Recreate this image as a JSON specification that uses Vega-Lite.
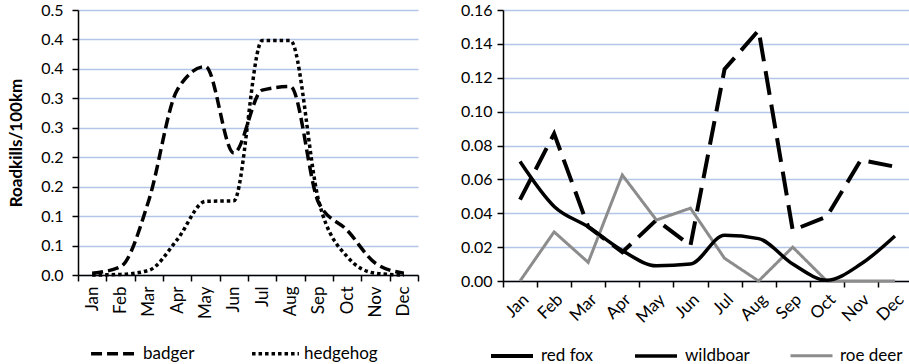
{
  "$schema": "https://vega.github.io/schema/vega-lite/v6.json",
  "background": "white",
  "padding": {"left": 7, "top": 2, "right": 0, "bottom": 0},
  "config": {
    "font": "Lato",
    "view": {"stroke": null},
    "concat": {"spacing": 41},
    "axis": {
      "labelFont": "Lato",
      "labelColor": "#000",
      "labelFontSize": 16,
      "domainColor": "#000",
      "domainWidth": 1.5,
      "tickColor": "#000",
      "tickWidth": 1.5,
      "tickSize": 6,
      "gridColor": "#b4c6e7",
      "gridWidth": 1.5
    },
    "legend": {"labelFont": "Lato", "labelColor": "#000", "labelFontSize": 17}
  },
  "resolve": {
    "scale": {"color": "independent", "strokeDash": "independent", "strokeWidth": "independent"},
    "legend": {"color": "independent", "strokeDash": "independent", "strokeWidth": "independent"}
  },
  "datasets": {
    "left": [
      {"month": "Jan", "species": "badger", "value": 0.003},
      {"month": "Feb", "species": "badger", "value": 0.014},
      {"month": "Mar", "species": "badger", "value": 0.127},
      {"month": "Apr", "species": "badger", "value": 0.314},
      {"month": "May", "species": "badger", "value": 0.354},
      {"month": "Jun", "species": "badger", "value": 0.207},
      {"month": "Jul", "species": "badger", "value": 0.314},
      {"month": "Aug", "species": "badger", "value": 0.32},
      {"month": "Sep", "species": "badger", "value": 0.122},
      {"month": "Oct", "species": "badger", "value": 0.076},
      {"month": "Nov", "species": "badger", "value": 0.02},
      {"month": "Dec", "species": "badger", "value": 0.003},
      {"month": "Jan", "species": "hedgehog", "value": 0.0},
      {"month": "Feb", "species": "hedgehog", "value": 0.001},
      {"month": "Mar", "species": "hedgehog", "value": 0.008},
      {"month": "Apr", "species": "hedgehog", "value": 0.06},
      {"month": "May", "species": "hedgehog", "value": 0.125},
      {"month": "Jun", "species": "hedgehog", "value": 0.126},
      {"month": "Jul", "species": "hedgehog", "value": 0.398},
      {"month": "Aug", "species": "hedgehog", "value": 0.398},
      {"month": "Sep", "species": "hedgehog", "value": 0.125},
      {"month": "Oct", "species": "hedgehog", "value": 0.031},
      {"month": "Nov", "species": "hedgehog", "value": 0.003},
      {"month": "Dec", "species": "hedgehog", "value": 0.0}
    ],
    "right": [
      {"month": "Jan", "species": "red fox", "value": 0.048},
      {"month": "Feb", "species": "red fox", "value": 0.087},
      {"month": "Mar", "species": "red fox", "value": 0.032},
      {"month": "Apr", "species": "red fox", "value": 0.017},
      {"month": "May", "species": "red fox", "value": 0.036},
      {"month": "Jun", "species": "red fox", "value": 0.021},
      {"month": "Jul", "species": "red fox", "value": 0.125},
      {"month": "Aug", "species": "red fox", "value": 0.148},
      {"month": "Sep", "species": "red fox", "value": 0.03},
      {"month": "Oct", "species": "red fox", "value": 0.038},
      {"month": "Nov", "species": "red fox", "value": 0.0715},
      {"month": "Dec", "species": "red fox", "value": 0.0675},
      {"month": "Jan", "species": "wildboar", "value": 0.0705},
      {"month": "Feb", "species": "wildboar", "value": 0.044},
      {"month": "Mar", "species": "wildboar", "value": 0.032},
      {"month": "Apr", "species": "wildboar", "value": 0.018},
      {"month": "May", "species": "wildboar", "value": 0.009},
      {"month": "Jun", "species": "wildboar", "value": 0.01},
      {"month": "Jul", "species": "wildboar", "value": 0.027},
      {"month": "Aug", "species": "wildboar", "value": 0.025},
      {"month": "Sep", "species": "wildboar", "value": 0.01},
      {"month": "Oct", "species": "wildboar", "value": 0.0005},
      {"month": "Nov", "species": "wildboar", "value": 0.01},
      {"month": "Dec", "species": "wildboar", "value": 0.0266},
      {"month": "Jan", "species": "roe deer", "value": 0.0},
      {"month": "Feb", "species": "roe deer", "value": 0.029},
      {"month": "Mar", "species": "roe deer", "value": 0.011},
      {"month": "Apr", "species": "roe deer", "value": 0.0626},
      {"month": "May", "species": "roe deer", "value": 0.036},
      {"month": "Jun", "species": "roe deer", "value": 0.043},
      {"month": "Jul", "species": "roe deer", "value": 0.0134},
      {"month": "Aug", "species": "roe deer", "value": 0.0},
      {"month": "Sep", "species": "roe deer", "value": 0.02},
      {"month": "Oct", "species": "roe deer", "value": 0.0},
      {"month": "Nov", "species": "roe deer", "value": 0.0},
      {"month": "Dec", "species": "roe deer", "value": 0.0}
    ]
  },
  "hconcat": [
    {
      "width": 340,
      "height": 265,
      "data": {"name": "left"},
      "mark": {"type": "line", "interpolate": "monotone", "strokeWidth": 3.5, "color": "black"},
      "encoding": {
        "x": {
          "field": "month", "type": "ordinal",
          "sort": ["Jan","Feb","Mar","Apr","May","Jun","Jul","Aug","Sep","Oct","Nov","Dec"],
          "scale": {"type": "band", "paddingInner": 0, "paddingOuter": 0},
          "bandPosition": 0.5,
          "axis": {"title": null, "labelAngle": -90, "tickBand": "extent", "grid": false, "labelPadding": 5, "labelFontSize": 17}
        },
        "y": {
          "field": "value", "type": "quantitative",
          "scale": {"domain": [0, 0.45], "nice": false},
          "axis": {
            "title": "Roadkills/100km", "titleFontWeight": "bold", "titleFontSize": 17, "titleFont": "Lato", "titleColor": "#000", "titlePadding": 15,
            "values": [0, 0.05, 0.1, 0.15, 0.2, 0.25, 0.3, 0.35, 0.4, 0.45],
            "labelExpr": "format(round(datum.value*10+0.000001)/10, '.1f')",
            "grid": true, "labelPadding": 9
          }
        },
        "strokeDash": {
          "field": "species", "type": "nominal",
          "scale": {"domain": ["badger", "hedgehog"], "range": [[11, 5], [3.5, 3]]},
          "legend": {
            "title": null, "orient": "none", "direction": "horizontal",
            "legendX": 11, "legendY": 318,
            "symbolType": "stroke", "symbolSize": 2200, "symbolStrokeWidth": 3.5, "symbolStrokeColor": "black",
            "columnPadding": 50, "labelOffset": 3
          }
        }
      }
    },
    {
      "width": 409,
      "height": 271,
      "data": {"name": "right"},
      "encoding": {
        "x": {
          "field": "month", "type": "ordinal",
          "sort": ["Jan","Feb","Mar","Apr","May","Jun","Jul","Aug","Sep","Oct","Nov","Dec"],
          "scale": {"type": "band", "paddingInner": 0, "paddingOuter": 0},
          "bandPosition": 0.5,
          "axis": {"title": null, "labelAngle": -45, "tickBand": "extent", "grid": false, "labelPadding": 4, "labelFontSize": 17}
        },
        "y": {
          "field": "value", "type": "quantitative",
          "scale": {"domain": [0, 0.16], "nice": false},
          "axis": {
            "title": null,
            "values": [0, 0.02, 0.04, 0.06, 0.08, 0.1, 0.12, 0.14, 0.16],
            "format": ".2f", "grid": true, "labelPadding": 5
          }
        },
        "color": {
          "field": "species", "type": "nominal",
          "scale": {"domain": ["red fox", "wildboar", "roe deer"], "range": ["#000000", "#000000", "#8c8c8c"]},
          "legend": {
            "title": null, "orient": "none", "direction": "horizontal",
            "legendX": -14, "legendY": 323,
            "symbolType": "stroke", "symbolSize": 1764,
            "columnPadding": 34, "labelOffset": 6
          }
        },
        "strokeWidth": {
          "field": "species", "type": "nominal",
          "scale": {"domain": ["red fox", "wildboar", "roe deer"], "range": [4, 3, 3]},
          "legend": null
        }
      },
      "layer": [
        {
          "transform": [{"filter": "datum.species !== 'wildboar'"}],
          "mark": {"type": "line", "interpolate": "linear"},
          "encoding": {
            "strokeDash": {
              "field": "species", "type": "nominal",
              "scale": {"domain": ["red fox", "roe deer"], "range": [[24, 10], [1, 0]]},
              "legend": null
            }
          }
        },
        {
          "transform": [{"filter": "datum.species === 'wildboar'"}],
          "mark": {"type": "line", "interpolate": "monotone"}
        }
      ]
    }
  ]
}
